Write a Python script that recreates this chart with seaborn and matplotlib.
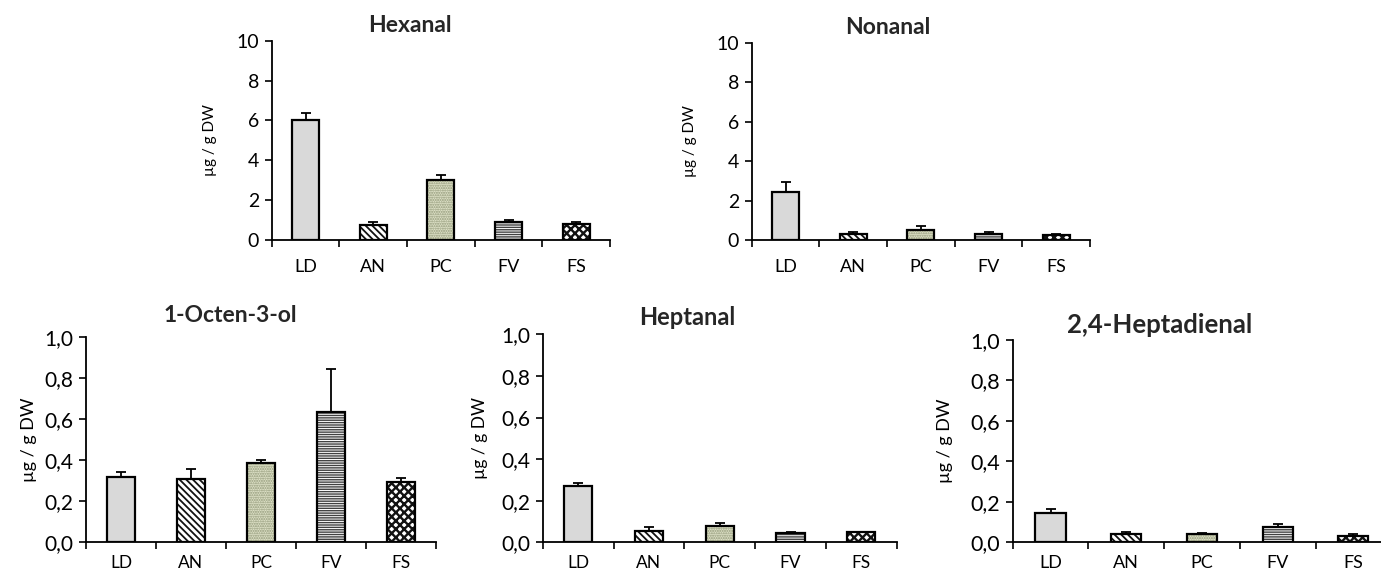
import numpy as np
import pandas as pd
import matplotlib
matplotlib.use("Agg")
import matplotlib.pyplot as plt
from matplotlib.patches import Rectangle
import seaborn as sns

# ---- data ----
categories = ["LD", "AN", "PC", "FV", "FS"]

hexanal_mean = [6.03, 0.76, 3.02, 0.92, 0.80]
hexanal_err = [0.32, 0.12, 0.24, 0.07, 0.08]

nonanal_mean = [2.43, 0.30, 0.51, 0.28, 0.25]
nonanal_err = [0.49, 0.10, 0.20, 0.11, 0.07]

octenol_mean = [0.320, 0.306, 0.387, 0.632, 0.295]
octenol_err = [0.022, 0.051, 0.013, 0.210, 0.020]

heptanal_mean = [0.271, 0.056, 0.079, 0.043, 0.048]
heptanal_err = [0.013, 0.016, 0.016, 0.005, 0.003]

heptadienal_mean = [0.147, 0.040, 0.040, 0.077, 0.031]
heptadienal_err = [0.019, 0.013, 0.004, 0.012, 0.010]

top_ticks = [0, 2, 4, 6, 8, 10]
top_ticklabels = ["0", "2", "4", "6", "8", "10"]
bottom_ticks = [0.0, 0.2, 0.4, 0.6, 0.8, 1.0]
bottom_ticklabels = ["0,0", "0,2", "0,4", "0,6", "0,8", "1,0"]

ylabel = "µg / g DW"

# ---- style ----
sns.set_theme(style="white")
plt.rcParams["font.family"] = ["Lato", "DejaVu Sans"]
plt.rcParams["hatch.linewidth"] = 1.1

face_colors = ["#d9d9d9", "#ffffff", "#dfe2c8", "#ffffff", "#ffffff"]
hatches = [None, "\\" * 5, "." * 7, "-" * 7, "x" * 4]
hatch_colors = [None, "#111111", "#8f9676", "#404040", "#111111"]
hatch_widths = [None, 1.3, 1.0, 1.0, 1.7]

fig = plt.figure(figsize=(13.81, 5.76), dpi=100)
W, H = 1381.0, 576.0


def make_ax(left, right, top, bottom):
    return fig.add_axes([left / W, 1 - bottom / H, (right - left) / W, (bottom - top) / H])


panels = [
    dict(title="Hexanal", mean=hexanal_mean, err=hexanal_err,
         box=(271.7, 610.0, 40.7, 240.0), ymax=10, ticks=top_ticks, tl=top_ticklabels,
         title_x=0.409, title_dy=15, fs_title=16.5, fs_ytick=14, fs_xtick=13, fs_ylab=11,
         ylab_x=-0.182, xpad=14),
    dict(title="Nonanal", mean=nonanal_mean, err=nonanal_err,
         box=(751.7, 1090.0, 42.7, 240.0), ymax=10, ticks=top_ticks, tl=top_ticklabels,
         title_x=0.403, title_dy=15, fs_title=16.5, fs_ytick=14, fs_xtick=13, fs_ylab=11,
         ylab_x=-0.182, xpad=14),
    dict(title="1-Octen-3-ol", mean=octenol_mean, err=octenol_err,
         box=(86.0, 436.0, 336.7, 542.3), ymax=1.0, ticks=bottom_ticks, tl=bottom_ticklabels,
         title_x=0.411, title_dy=21, fs_title=16.5, fs_ytick=15, fs_xtick=12.5, fs_ylab=13,
         ylab_x=-0.163, xpad=9),
    dict(title="Heptanal", mean=heptanal_mean, err=heptanal_err,
         box=(542.7, 896.7, 334.3, 542.3), ymax=1.0, ticks=bottom_ticks, tl=bottom_ticklabels,
         title_x=0.408, title_dy=17, fs_title=17, fs_ytick=15, fs_xtick=12.5, fs_ylab=12.5,
         ylab_x=-0.177, xpad=9),
    dict(title="2,4-Heptadienal", mean=heptadienal_mean, err=heptadienal_err,
         box=(1012.7, 1391.2, 340.0, 542.3), ymax=1.0, ticks=bottom_ticks, tl=bottom_ticklabels,
         title_x=0.389, title_dy=15, fs_title=18.5, fs_ytick=15.5, fs_xtick=13, fs_ylab=13,
         ylab_x=-0.179, xpad=9),
]

for p in panels:
    l, r, t, b = p["box"]
    ax = make_ax(l, r, t, b)
    df = pd.DataFrame({"cat": categories, "val": p["mean"]})
    sns.barplot(data=df, x="cat", y="val", hue="cat", palette=face_colors, legend=False,
                width=0.4, edgecolor="black", linewidth=1.6, ax=ax, saturation=1)
    bars = list(ax.patches)
    for patch, h, hc, hw in zip(bars, hatches, hatch_colors, hatch_widths):
        if h:
            # hatch takes the edge colour; draw the black outline separately
            patch.set_hatch(h)
            patch.set_edgecolor(hc)
            patch.set_linewidth(0)
            try:
                patch.set_hatch_linewidth(hw)
            except Exception:
                pass
            ax.add_patch(Rectangle(patch.get_xy(), patch.get_width(), patch.get_height(),
                                   fill=False, edgecolor="black", linewidth=1.6,
                                   zorder=patch.get_zorder() + 0.1))
    xs = ax.get_xticks()
    ax.errorbar(xs, p["mean"], yerr=[np.zeros(len(xs)), p["err"]], fmt="none",
                ecolor="black", elinewidth=1.3, capsize=3.6, capthick=1.3, zorder=0.5)
    ax.set_xlim(-0.5, 4.5)
    ax.set_ylim(0, p["ymax"])
    ax.set_yticks(p["ticks"])
    ax.set_yticklabels(p["tl"], fontsize=p["fs_ytick"])
    ax.set_xticks(xs)
    ax.set_xticklabels(categories, fontsize=p["fs_xtick"])
    ax.set_xticks(np.arange(-0.5, 5.0, 1.0), minor=True)
    ax.tick_params(axis="x", which="major", length=0, pad=p["xpad"], colors="black")
    ax.tick_params(axis="x", which="minor", length=5, width=1.2, direction="out",
                   bottom=True, color="black")
    ax.tick_params(axis="y", length=5, width=1.2, direction="out", left=True,
                   pad=4, colors="black")
    ax.set_xlabel("")
    ax.set_ylabel(ylabel, fontsize=p["fs_ylab"], va="center", color="black")
    ax.yaxis.set_label_coords(p["ylab_x"], 0.5)
    for s in ["top", "right"]:
        ax.spines[s].set_visible(False)
    for s in ["left", "bottom"]:
        ax.spines[s].set_color("black")
        ax.spines[s].set_linewidth(1.3)
    ax.set_title(p["title"], x=p["title_x"], y=1 + p["title_dy"] / (b - t),
                 va="center", pad=0, fontsize=p["fs_title"], fontweight="bold")
    ax.patch.set_visible(False)

fig.savefig("out.png", dpi=100)
